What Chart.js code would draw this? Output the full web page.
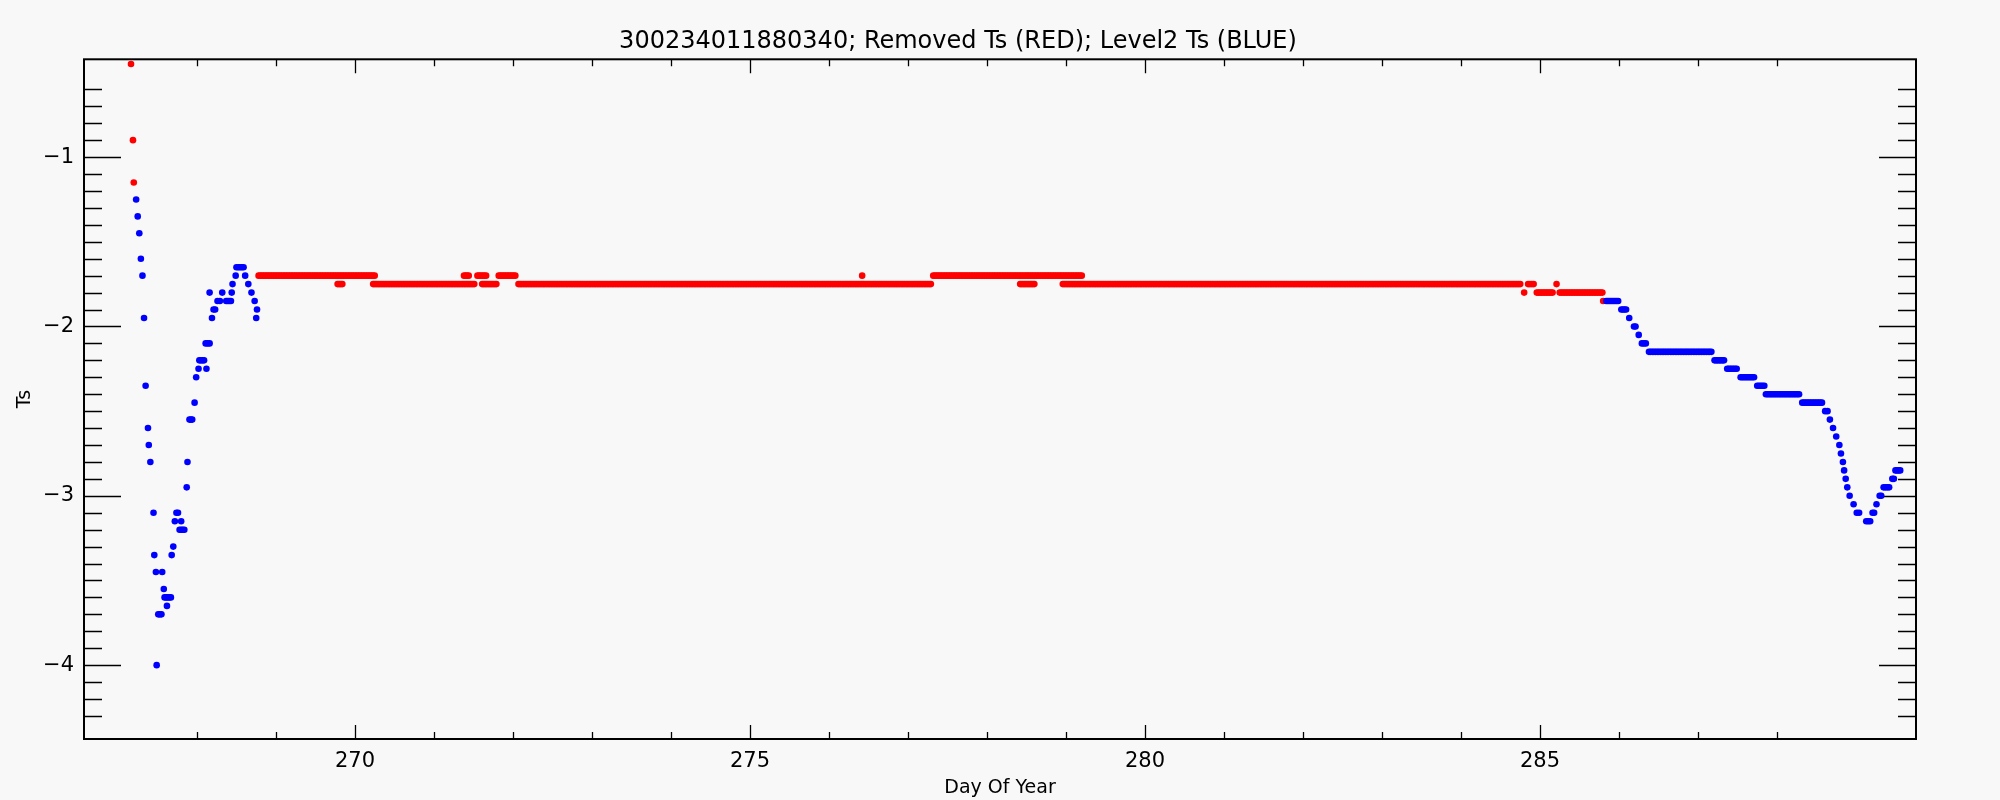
<!DOCTYPE html>
<html>
<head>
<meta charset="utf-8">
<script src="https://cdn.jsdelivr.net/npm/chart.js@4.4.1/dist/chart.umd.min.js"></script>
<style>
  html, body { margin: 0; padding: 0; background: #f8f8f8; }
  canvas { display: block; }
</style>
</head>
<body>
<canvas id="tsChart" width="2000" height="800"></canvas>
<script>
// buoy Ts, quantized to 0.05; each run = constant value between two days
const sampleStep = 1 / 48; // half-hour samples

const redFrom = [267.165, 267.19, 267.20, 268.78, 269.78, 270.23, 271.38, 271.55, 271.61, 271.82, 272.07, 276.42, 277.32, 278.42, 278.96, 284.80, 284.85, 284.96, 285.21, 285.25, 285.80];
const redTo   = [267.165, 267.19, 267.20, 270.25, 269.84, 271.51, 271.44, 271.66, 271.79, 272.03, 277.29, 276.42, 279.20, 278.60, 284.75, 284.80, 284.92, 285.16, 285.21, 285.79, 285.80];
const redTs   = [-0.45, -0.9, -1.15, -1.7, -1.75, -1.75, -1.7, -1.7, -1.75, -1.7, -1.75, -1.7, -1.7, -1.75, -1.75, -1.8, -1.75, -1.8, -1.75, -1.8, -1.85];

const blueFrom = [267.23, 267.25, 267.27, 267.29, 267.31, 267.33, 267.35, 267.38, 267.39, 267.41, 267.45, 267.46, 267.48, 267.49, 267.51, 267.56, 267.58, 267.59, 267.62, 267.68, 267.70, 267.72, 267.74, 267.78, 267.80, 267.87, 267.88, 267.905, 267.97, 267.99, 268.02, 268.03, 268.11, 268.12, 268.16, 268.19, 268.21, 268.26, 268.32, 268.37, 268.44, 268.45, 268.49, 268.50, 268.61, 268.65, 268.69, 268.73, 268.75, 268.76,
  285.84, 286.03, 286.13, 286.19, 286.25, 286.29, 286.38, 287.21, 287.37, 287.54, 287.75, 287.86, 288.32, 288.61, 288.67, 288.71, 288.75, 288.79, 288.81, 288.835, 288.85, 288.87, 288.89, 288.92, 288.97, 289.01, 289.13, 289.21, 289.26, 289.30, 289.35, 289.46, 289.50];
const blueTo = [267.23, 267.25, 267.27, 267.29, 267.31, 267.33, 267.35, 267.38, 267.39, 267.41, 267.45, 267.46, 267.48, 267.49, 267.55, 267.56, 267.58, 267.67, 267.62, 267.68, 267.70, 267.72, 267.76, 267.84, 267.80, 267.87, 267.88, 267.94, 267.97, 267.99, 268.02, 268.09, 268.16, 268.12, 268.16, 268.19, 268.23, 268.29, 268.32, 268.43, 268.44, 268.45, 268.49, 268.59, 268.61, 268.65, 268.69, 268.73, 268.75, 268.76,
  285.99, 286.09, 286.14, 286.21, 286.25, 286.34, 287.17, 287.33, 287.49, 287.71, 287.84, 288.28, 288.57, 288.64, 288.67, 288.71, 288.75, 288.79, 288.81, 288.835, 288.85, 288.87, 288.89, 288.92, 288.97, 289.04, 289.18, 289.23, 289.26, 289.32, 289.42, 289.48, 289.56];
const blueTs = [-1.25, -1.35, -1.45, -1.6, -1.7, -1.95, -2.35, -2.6, -2.7, -2.8, -3.1, -3.35, -3.45, -4.0, -3.7, -3.45, -3.55, -3.6, -3.65, -3.35, -3.3, -3.15, -3.1, -3.2, -3.15, -2.95, -2.8, -2.55, -2.45, -2.3, -2.25, -2.2, -2.1, -2.25, -1.8, -1.95, -1.9, -1.85, -1.8, -1.85, -1.8, -1.75, -1.7, -1.65, -1.7, -1.75, -1.8, -1.85, -1.95, -1.9,
  -1.85, -1.9, -1.95, -2.0, -2.05, -2.1, -2.15, -2.2, -2.25, -2.3, -2.35, -2.4, -2.45, -2.5, -2.55, -2.6, -2.65, -2.7, -2.75, -2.8, -2.85, -2.9, -2.95, -3.0, -3.05, -3.1, -3.15, -3.1, -3.05, -3.0, -2.95, -2.9, -2.85];

const dayRange = [266.57, 289.76];
const tsRange = [-4.436, -0.4225];
const dayLabels = [270, 275, 280, 285];
const tsLabels = [-4, -3, -2, -1];

const fontFamily = '"DejaVu Sans", "Liberation Sans", sans-serif';

// 把每段常数值展开成逐个采样点
function expandRuns(from, to, ts) {
    const pts = [];
    for (let i = 0; i < from.length; i++) {
        const n = Math.max(0, Math.round((to[i] - from[i]) / sampleStep));
        for (let k = 0; k <= n; k++) {
            const d = n === 0 ? from[i] : from[i] + (to[i] - from[i]) * k / n;
            pts.push({ x: d, y: ts[i] });
        }
    }
    return pts;
}

const isMult = (v, step) => Math.abs(v / step - Math.round(v / step)) < 1e-6;

// 背景色
const bgPlugin = {
    id: 'bg',
    beforeDraw(chart) {
        const ctx = chart.ctx;
        ctx.save();
        ctx.fillStyle = '#f8f8f8';
        ctx.fillRect(0, 0, chart.width, chart.height);
        ctx.restore();
    }
};

// IDL风格的内向刻度 + 四边框
const frameTicks = {
    id: 'frameTicks',
    beforeDatasetsDraw(chart) {
        const { ctx, chartArea: a, scales: { x, y } } = chart;
        ctx.save();
        ctx.strokeStyle = '#000';
        ctx.lineWidth = 1.3;
        ctx.beginPath();
        x.ticks.forEach(t => {
            if (!isMult(t.value, 1)) return;
            const px = Math.round(x.getPixelForValue(t.value)) + 0.5;
            const len = dayLabels.some(l => Math.abs(l - t.value) < 1e-6) ? 14 : 7;
            ctx.moveTo(px, a.bottom); ctx.lineTo(px, a.bottom - len);
            ctx.moveTo(px, a.top); ctx.lineTo(px, a.top + len);
        });
        y.ticks.forEach(t => {
            if (!isMult(t.value, 0.1)) return;
            const py = Math.round(y.getPixelForValue(t.value)) + 0.5;
            const len = tsLabels.some(l => Math.abs(l - t.value) < 1e-6) ? 37 : 18;
            ctx.moveTo(a.left, py); ctx.lineTo(a.left + len, py);
            ctx.moveTo(a.right, py); ctx.lineTo(a.right - len, py);
        });
        ctx.stroke();
        ctx.restore();
    },
    afterDraw(chart) {
        const { ctx, chartArea: a } = chart;
        ctx.save();
        ctx.strokeStyle = '#000';
        ctx.lineWidth = 2;
        ctx.strokeRect(a.left, a.top, a.right - a.left, a.bottom - a.top);
        ctx.restore();
    }
};

new Chart(document.getElementById('tsChart'), {
    type: 'scatter',
    data: {
        datasets: [
            {
                label: 'Level2 Ts',
                data: expandRuns(blueFrom, blueTo, blueTs),
                backgroundColor: '#0000ff',
                pointRadius: 3.3,
                pointBorderWidth: 0,
                order: 0
            },
            {
                label: 'Removed Ts',
                data: expandRuns(redFrom, redTo, redTs),
                backgroundColor: '#ff0000',
                pointRadius: 3.3,
                pointBorderWidth: 0,
                order: 1
            }
        ]
    },
    options: {
        responsive: false,
        animation: false,
        layout: { padding: { left: 0, right: 84, top: 0, bottom: 0 } },
        plugins: {
            legend: { display: false },
            tooltip: { enabled: false },
            title: {
                display: true,
                text: '300234011880340; Removed Ts (RED); Level2 Ts (BLUE)',
                color: '#000',
                font: { family: fontFamily, size: 24, weight: 'normal' },
                padding: { top: 27, bottom: 3.5 }
            }
        },
        scales: {
            x: {
                type: 'linear',
                min: dayRange[0],
                max: dayRange[1],
                grid: { display: false, drawTicks: false },
                border: { display: false },
                ticks: {
                    stepSize: 1,
                    autoSkip: false,
                    maxRotation: 0,
                    padding: 10,
                    color: '#000',
                    font: { family: fontFamily, size: 21 },
                    callback: v => dayLabels.some(l => Math.abs(l - v) < 1e-6) ? String(Math.round(v)) : ''
                },
                title: {
                    display: true,
                    text: 'Day Of Year',
                    color: '#000',
                    font: { family: fontFamily, size: 19 },
                    padding: { top: 0, bottom: 1 }
                },
                afterFit(scale) { scale.height = 61; }
            },
            y: {
                type: 'linear',
                min: tsRange[0],
                max: tsRange[1],
                grid: { display: false, drawTicks: false },
                border: { display: false },
                ticks: {
                    stepSize: 0.1,
                    autoSkip: false,
                    padding: 10,
                    color: '#000',
                    font: { family: fontFamily, size: 21 },
                    callback: v => tsLabels.some(l => Math.abs(l - v) < 1e-6) ? '\u2212' + Math.abs(Math.round(v)) : ''
                },
                title: {
                    display: true,
                    text: 'Ts',
                    color: '#000',
                    font: { family: fontFamily, size: 19 },
                    padding: { top: 14, bottom: 0 }
                },
                afterFit(scale) { scale.width = 84; }
            }
        }
    },
    plugins: [bgPlugin, frameTicks]
});
</script>
</body>
</html>
